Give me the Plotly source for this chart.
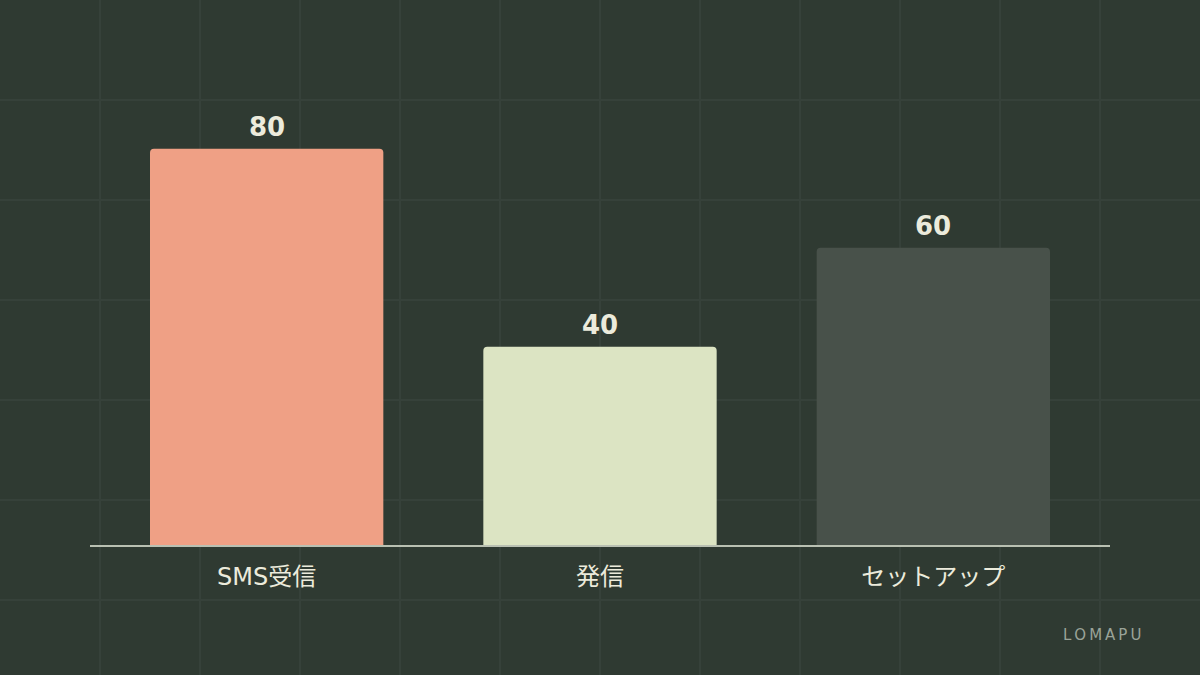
import plotly.graph_objects as go

# chart data
categories = ["SMS受信", "発信", "セットアップ"]
values = [80, 40, 60]
bar_colors = ["#efa085", "#dce4c3", "#48514a"]
watermark = "LOMAPU"

BG = "#2f3a32"
GRID = "#36413a"
TEXT = "#ecebdc"
FONT = "DejaVu Sans, Noto Sans CJK JP, sans-serif"

fig = go.Figure()

# full-canvas axes (x/y), only used to draw the faint background grid;
# drawn first so the bar subplot (x2/y2) sits on top of it
fig.add_trace(go.Scatter(x=[None], y=[None], showlegend=False, hoverinfo="skip"))

fig.add_trace(go.Bar(
    x=categories, y=values, xaxis="x2", yaxis="y2",
    marker=dict(color=bar_colors, cornerradius=4, line=dict(width=0)),
    width=0.7, showlegend=False, hoverinfo="skip",
))

# value labels above bars
for cat, val in zip(categories, values):
    fig.add_annotation(x=cat, y=val, xref="x2", yref="y2", text=f"<b>{val}</b>",
                       showarrow=False, yanchor="bottom", yshift=5,
                       font=dict(size=26, color=TEXT, family=FONT))

fig.add_annotation(text="\u2009".join(watermark), xref="paper", yref="paper",
                   x=1102 / 1200, y=(675 - 635) / 675, xanchor="center",
                   yanchor="middle", showarrow=False,
                   font=dict(size=15, color="#9aa398", family=FONT))

fig.update_layout(
    width=1200, height=675,
    margin=dict(l=0, r=0, t=0, b=0),
    paper_bgcolor=BG, plot_bgcolor="rgba(0,0,0,0)",
    xaxis=dict(domain=[0, 1], range=[0, 1200], dtick=100, showgrid=True,
               gridcolor=GRID, gridwidth=1.5, zeroline=False,
               showticklabels=False, ticks=""),
    yaxis=dict(domain=[0, 1], range=[675, 0], tick0=0, dtick=100, showgrid=True,
               gridcolor=GRID, gridwidth=1.5, zeroline=False,
               showticklabels=False, ticks=""),
    xaxis2=dict(domain=[90 / 1200, 1110 / 1200], range=[-0.53, 2.53], anchor="y2",
                showgrid=False, zeroline=False, showline=True,
                linecolor="#b9c0b2", linewidth=2, ticks="", ticklabelstandoff=9,
                tickfont=dict(size=24, color=TEXT, family=FONT)),
    yaxis2=dict(domain=[130 / 675, 1], range=[0, 110], anchor="x2", visible=False,
                showgrid=False, zeroline=False),
    bargap=0.3,
)

fig.write_html("out.html", config={"displayModeBar": False},
               post_script="document.body.style.margin='0';"
                           f"document.body.style.background='{BG}';")
